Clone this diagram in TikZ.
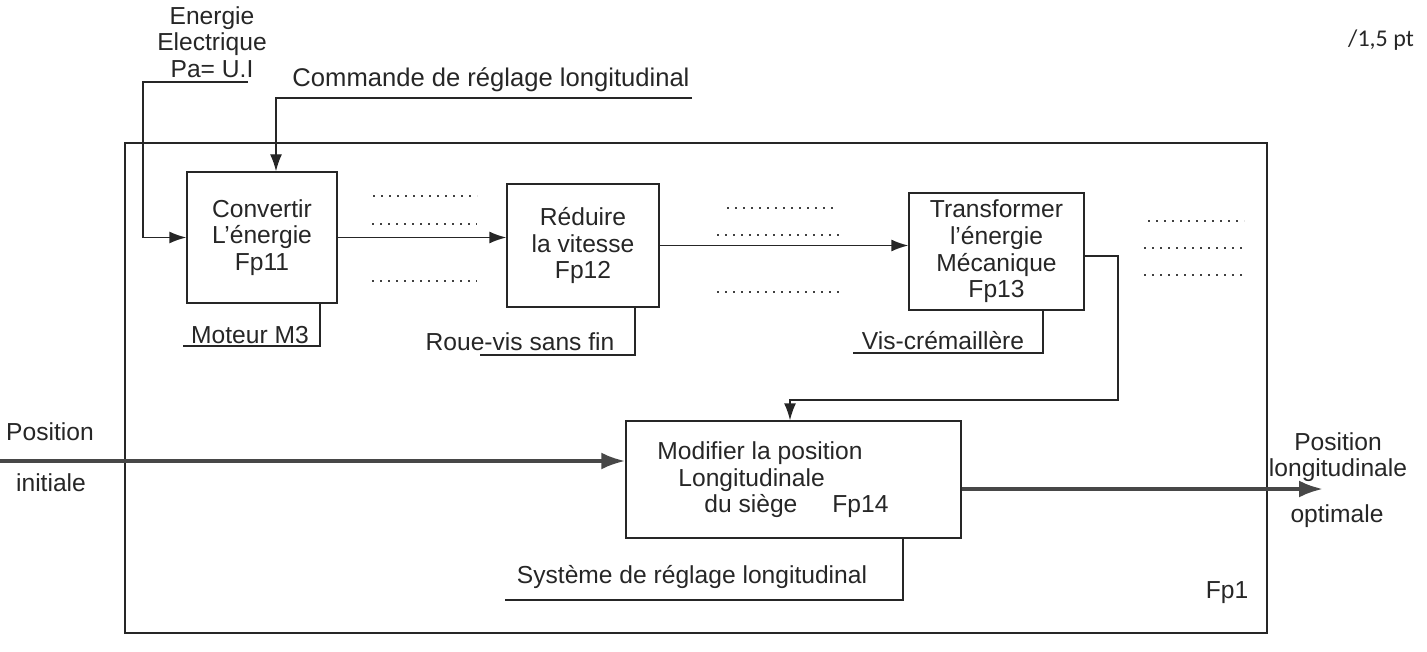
\documentclass[tikz,border=0pt]{standalone}
\usepackage{fontspec}
\setmainfont{Liberation Sans}
\newfontfamily\calib{Carlito}
\usetikzlibrary{arrows.meta}
\begin{document}
\begin{tikzpicture}[x=0.5pt,y=-0.5pt,
  ln/.style={line width=0.7pt, draw=black!85},
  arr/.style={ln, -{Latex[length=8.5pt,width=6pt]}},
  big/.style={line width=1.9pt, draw=black!72, -{Latex[length=12pt,width=8.5pt]}},
  dots/.style={line width=0.9pt, dash pattern=on 0.9pt off 3.1pt, draw=black!75},
  box/.style={draw=black!85, line width=0.7pt, inner sep=0pt, align=center, text=black!85,
    font=\fontsize{12.3}{13.3}\selectfont},
  lbl/.style={inner sep=0pt, text=black!85, font=\fontsize{12.3}{13.3}\selectfont}]
\useasboundingbox (0,0) rectangle (1427,652);
% outer frame
\node[draw=black!85, line width=0.7pt, minimum width=571pt, minimum height=245pt, inner sep=0pt] (fp1) at (696,388) {};
\node[lbl] (fp1txt) at (1227,593) {Fp1};
\node[lbl, font=\calib\fontsize{12}{13}\selectfont] (note) at (1381,40) {/1,5 pt};
% boxes
\node[box, minimum width=75pt, minimum height=65.5pt] (conv) at (262,237.5) {Convertir\\L'énergie\\Fp11};
\node[box, minimum width=76pt, minimum height=61.5pt] (red) at (583,245.5) {Réduire\\la vitesse\\Fp12};
\node[box, minimum width=87.5pt, minimum height=58.5pt] (trans) at (996.5,251.5) {Transformer\\l'énergie\\Mécanique\\Fp13};
\node[box, minimum width=167.5pt, minimum height=58.5pt] (mod) at (793.5,479.5) {};
\node[lbl, align=left, anchor=west] (modtxt) at (657,480) {Modifier la position\\\hspace*{10.5pt}Longitudinale\\\hspace*{23.5pt}du siège\hspace{17.5pt}Fp14};
% inputs on top
\node[lbl, align=center] (energie) at (212,42) {Energie\\Electrique\\Pa= U.I};
\coordinate (e0) at (248,82);
\coordinate (ec) at (143,82);
\draw[arr] (e0) -- (ec) |- (conv.west);
\node[lbl, font=\fontsize{12.8}{14}\selectfont] (cmd) at (491,80) {Commande de réglage longitudinal};
\coordinate (c0) at (692,98);
\coordinate (cc) at (276,98);
\draw[arr] (c0) -- (cc) -- (cc |- conv.north);
% chain
\draw[arr] (conv.east) -- (conv.east -| red.west);
\draw[arr] (red.east) -- (red.east -| trans.west);
\coordinate (lr) at (1118,400);
\coordinate (ll) at (790,400);
\draw[arr] ([yshift=-2.25pt]trans.east) -| (lr) -- (ll) -- (ll |- mod.north);
% dotted placeholders
\draw[dots] (373,196) -- (477,196);
\draw[dots] (372,224) -- (477,224);
\draw[dots] (372,281) -- (477,281);
\draw[dots] (727,208) -- (838,208);
\draw[dots] (717,235) -- (840,235);
\draw[dots] (717,292) -- (840,292);
\draw[dots] (1148,221) -- (1244,221);
\draw[dots] (1144,248) -- (1247,248);
\draw[dots] (1144,275) -- (1247,275);
% supports
\node[lbl] (mot) at (250,335) {Moteur M3};
\coordinate (m1) at (183,346);
\coordinate (m2) at (320,346);
\draw[ln] (m1) -- (m2) -- (m2 |- conv.south);
\node[lbl] (roue) at (520,342) {Roue-vis sans fin};
\coordinate (r1) at (480,355);
\coordinate (r2) at (635,355);
\draw[ln] (r1) -- (r2) -- (r2 |- red.south);
\node[lbl] (vis) at (943,341) {Vis-crémaillère};
\coordinate (v1) at (853,353);
\coordinate (v2) at (1043,353);
\draw[ln] (v1) -- (v2) -- (v2 |- trans.south);
\node[lbl] (sys) at (692,577) {Système de réglage longitudinal};
\coordinate (s1) at (505,600);
\coordinate (s2) at (903,600);
\draw[ln] (s1) -- (s2) -- (s2 |- mod.south);
% main flow
\node[lbl] (pi1) at (50,432) {Position};
\node[lbl] (pi2) at (51,483) {initiale};
\coordinate (pin) at (0,461);
\draw[big] (pin) -- (pin -| mod.west);
\node[lbl, align=center] (po1) at (1338,457) {Position\\longitudinale};
\node[lbl] (po2) at (1337,516) {optimale};
\coordinate (pout) at (1323,489);
\draw[big] (mod.east |- pout) -- (pout);
\end{tikzpicture}
\end{document}
